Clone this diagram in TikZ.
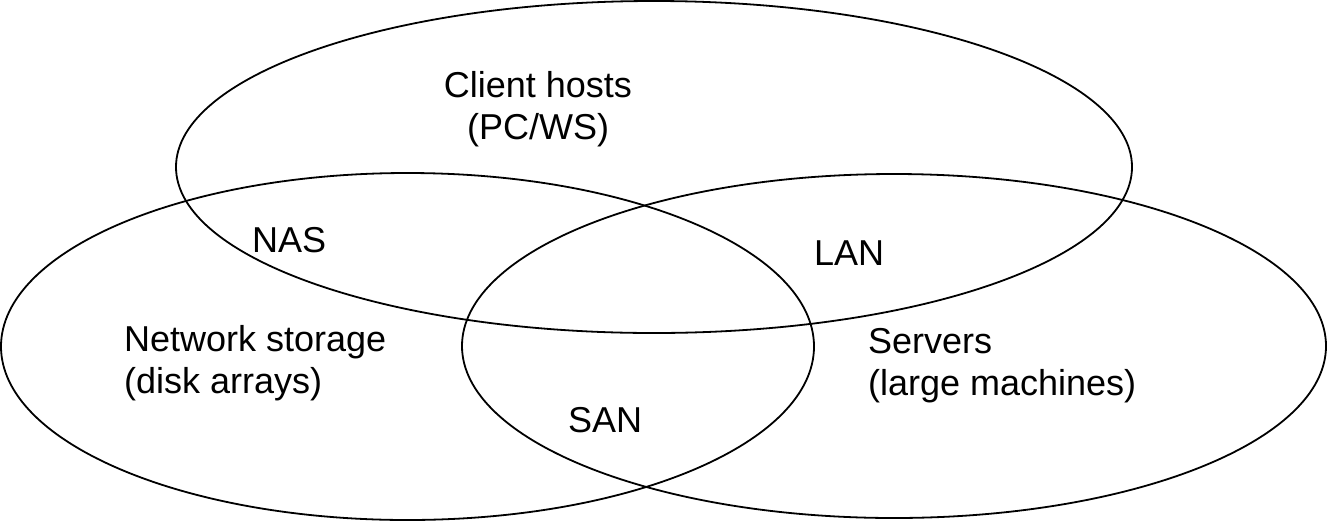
\documentclass[tikz,border=0pt]{standalone}
\usepackage{fontspec}
\setmainfont{Liberation Sans}
\usetikzlibrary{shapes.geometric}
\begin{document}
\begin{tikzpicture}[x=1pt,y=-1pt,
  setring/.style={ellipse, draw=black, line width=1.8pt, inner sep=0pt},
  lbl/.style={inner sep=0pt, font=\fontsize{36}{42}\selectfont, text=black}]
\useasboundingbox (0,0) rectangle (1327,523);
\node[setring, minimum width=956pt, minimum height=332pt] (client) at (654,167) {};
\node[setring, minimum width=813pt, minimum height=347pt] (storage) at (407.5,346.5) {};
\node[setring, minimum width=864pt, minimum height=344pt] (servers) at (894,346) {};
\node[lbl, align=center, anchor=base] (tclient) at (538,139) {Client hosts\\(PC/WS)};
\node[lbl, align=left, anchor=base west] (tstorage) at (124,393) {Network storage\\(disk arrays)};
\node[lbl, align=left, anchor=base west] (tservers) at (868,395) {Servers\\(large machines)};
\node[lbl, anchor=base west] (nas) at (252,252) {NAS};
\node[lbl, anchor=base west] (lan) at (814,265) {LAN};
\node[lbl, anchor=base west] (san) at (568,432) {SAN};
\end{tikzpicture}
\end{document}
